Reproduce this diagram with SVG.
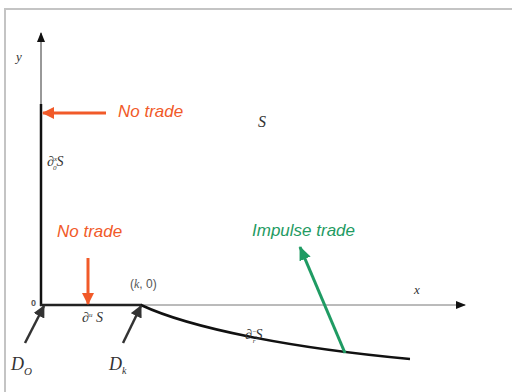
<svg xmlns="http://www.w3.org/2000/svg" width="512" height="392" viewBox="0 0 512 392">
<style>
.ann{font-family:"Liberation Sans",Arial,sans-serif;font-style:italic;font-size:17px}
.orange{fill:#f15a29}
.green{fill:#1f9b63}
.math{font-family:"Liberation Serif","Times New Roman",serif;font-style:italic;fill:#333}
.lbl{font-family:"Liberation Sans",Arial,sans-serif;fill:#555}
</style>
<defs>
<marker id="ah" markerWidth="10" markerHeight="8" refX="9" refY="4" orient="auto" markerUnits="userSpaceOnUse"><path d="M0,0 L10,4 L0,8 z" fill="#111"/></marker>
<marker id="ahO" markerWidth="12" markerHeight="12" refX="11" refY="6" orient="auto" markerUnits="userSpaceOnUse"><path d="M0,0 L12,6 L0,12 z" fill="#f15a29"/></marker>
<marker id="ahG" markerWidth="14" markerHeight="12" refX="13" refY="6" orient="auto" markerUnits="userSpaceOnUse"><path d="M0,0 L14,6 L0,12 z" fill="#1f9b63"/></marker>
<marker id="ahD" markerWidth="12" markerHeight="12" refX="11" refY="6" orient="auto" markerUnits="userSpaceOnUse"><path d="M0,0 L12,6 L0,12 z" fill="#333"/></marker>
</defs>
<rect width="512" height="392" fill="#fff"/>
<g id="frame" fill="none" stroke="#c4c4c4" stroke-width="2">
<path d="M5,392 V9 H512"/>
</g>
<g id="axes">
<line x1="41" y1="305" x2="41" y2="33" stroke="#333" stroke-width="1" marker-end="url(#ah)"/>
<line x1="41" y1="305" x2="465" y2="305" stroke="#777" stroke-width="1" marker-end="url(#ah)"/>
<text class="math" x="16" y="61" font-size="13">y</text>
<text class="math" x="414" y="294" font-size="13">x</text>
<text class="lbl" x="31" y="306" font-size="9" font-weight="bold">0</text>
</g>
<g id="boundary">
<line x1="41" y1="104" x2="41" y2="306" stroke="#111" stroke-width="2.5"/>
<line x1="40" y1="305" x2="142" y2="305" stroke="#222" stroke-width="2.5"/>
<path d="M141,305 C190,328 290,348 410,359" fill="none" stroke="#111" stroke-width="2.5"/>
</g>
<g id="labels">
<text class="math" x="258" y="127" font-size="16" fill="#444">S</text>
<text class="math" x="47" y="166" font-size="14">∂<tspan font-size="7" dy="-5">x</tspan><tspan font-size="7" dx="-4" dy="9">0</tspan><tspan dy="-4">S</tspan></text>
<text class="math" x="82" y="322" font-size="14">∂<tspan font-size="7" dy="-5">u</tspan><tspan dy="5"> S</tspan></text>
<text class="math" x="245" y="339" font-size="14">∂<tspan font-size="7" dy="-5">−</tspan><tspan font-size="7" dx="-4" dy="9">r</tspan><tspan dy="-4">S</tspan></text>
<text class="lbl" x="130" y="288" font-size="12">(<tspan font-family="Liberation Serif,serif" font-style="italic">k</tspan>, 0)</text>
</g>
<g id="no-trade-top">
<line x1="106" y1="113" x2="43" y2="113" stroke="#f15a29" stroke-width="3" marker-end="url(#ahO)"/>
<text class="ann orange" x="118" y="117">No trade</text>
</g>
<g id="no-trade-bottom">
<line x1="88" y1="258" x2="88" y2="304" stroke="#f15a29" stroke-width="3" marker-end="url(#ahO)"/>
<text class="ann orange" x="57" y="237">No trade</text>
</g>
<g id="impulse-trade">
<line x1="345" y1="353" x2="300" y2="247" stroke="#1f9b63" stroke-width="3" marker-end="url(#ahG)"/>
<text class="ann green" x="252" y="236">Impulse trade</text>
</g>
<g id="DO">
<line x1="25" y1="343" x2="44" y2="306" stroke="#333" stroke-width="2.5" marker-end="url(#ahD)"/>
<text class="math" x="11" y="370" font-size="18">D<tspan font-size="11" dy="5">O</tspan></text>
</g>
<g id="Dk">
<line x1="123" y1="343" x2="141" y2="306" stroke="#333" stroke-width="2.5" marker-end="url(#ahD)"/>
<text class="math" x="109" y="370" font-size="18">D<tspan font-size="10" dy="4">k</tspan></text>
</g>
</svg>
